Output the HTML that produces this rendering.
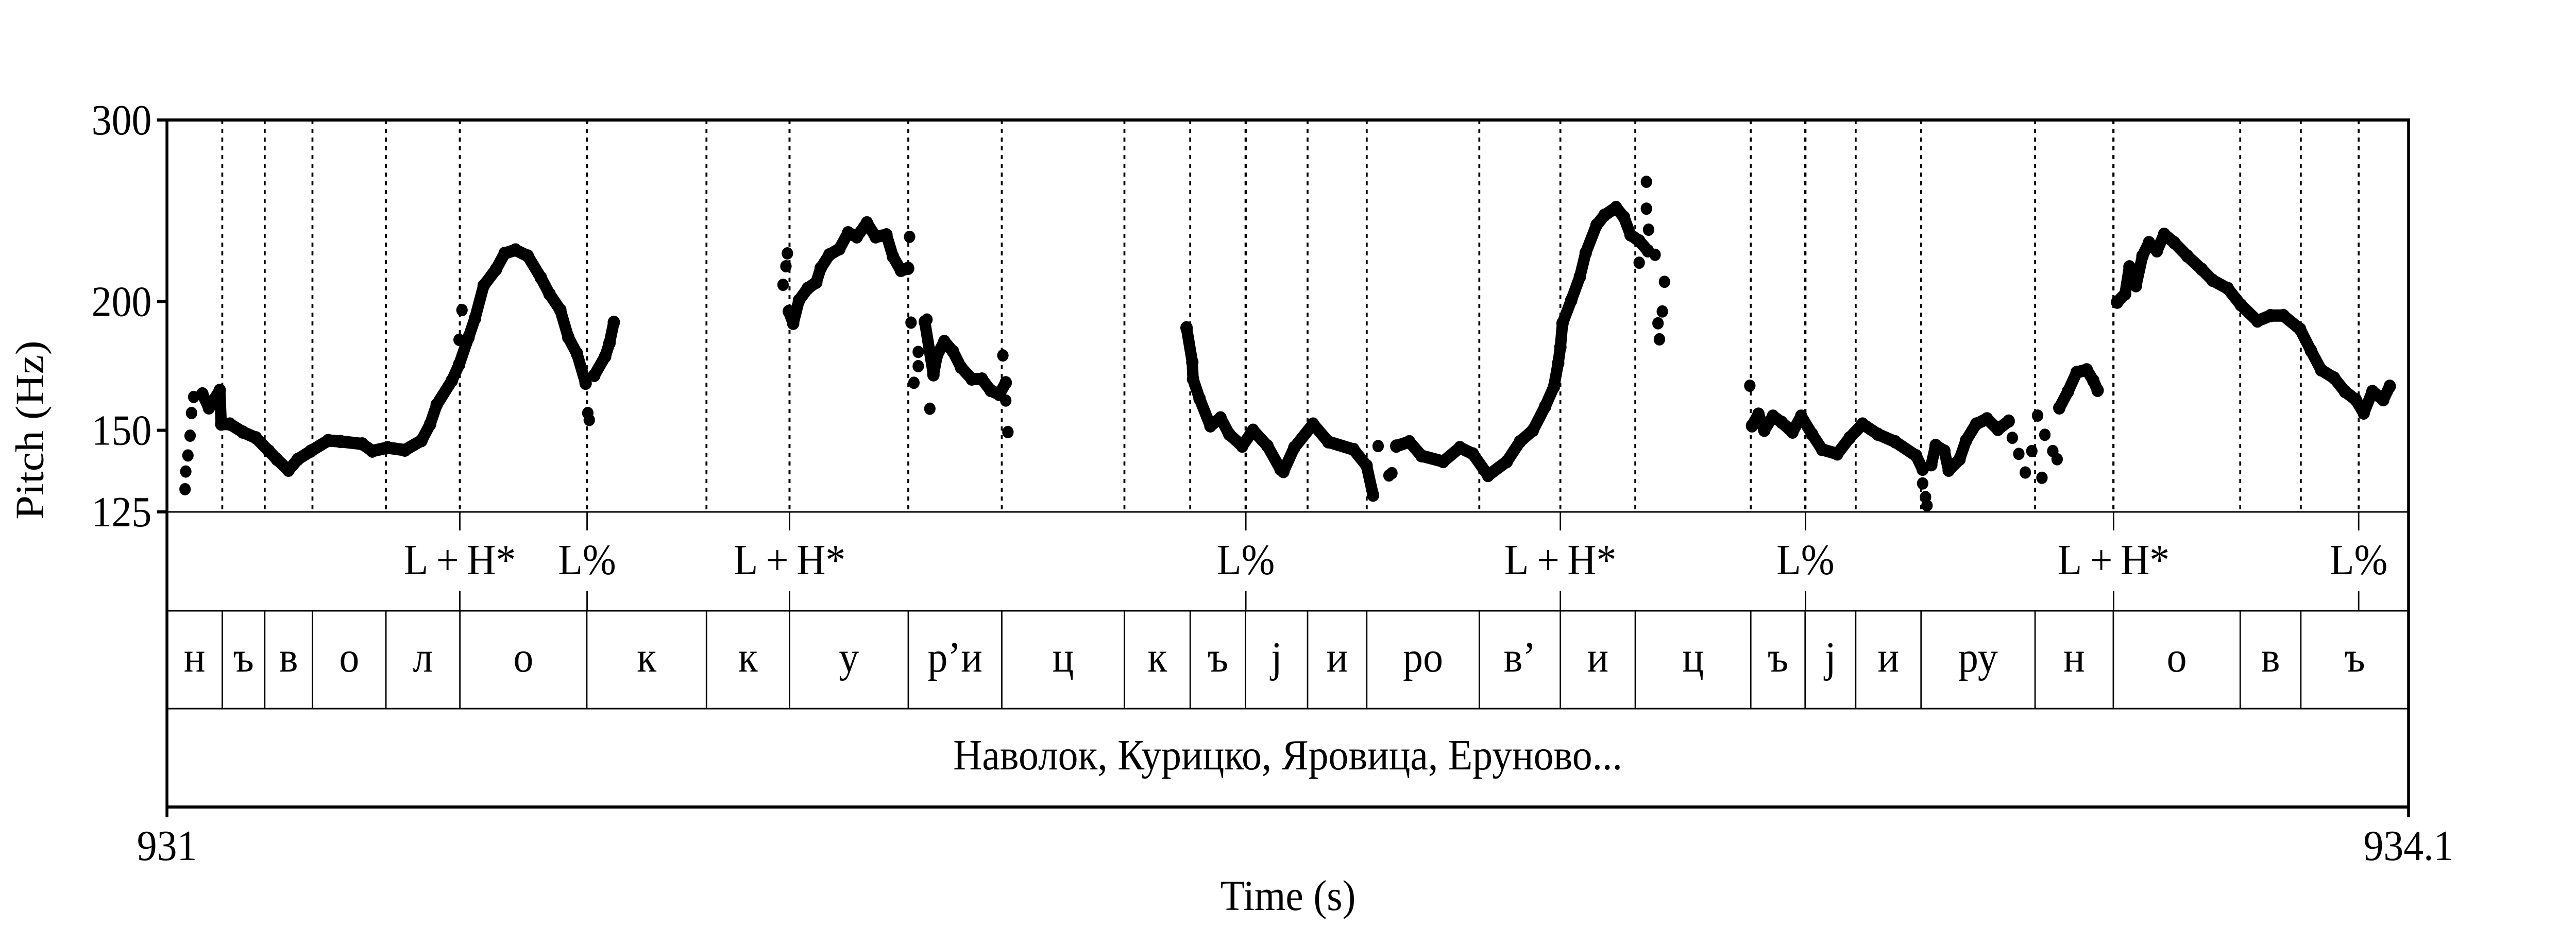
<!DOCTYPE html>
<html><head><meta charset="utf-8"><style>
html,body{margin:0;padding:0;background:#fff;width:100%;height:100%;overflow:hidden;}
svg{display:block;position:absolute;left:0;top:0;width:100vw;height:100vh;font-family:"Liberation Serif","DejaVu Serif",serif;}
</style></head><body>
<svg id="chart" viewBox="0 0 5400 1800" preserveAspectRatio="none" xmlns="http://www.w3.org/2000/svg">
<rect x="0" y="0" width="5400" height="1800" fill="#fff"/>
<g id="grid"></g>
<g id="marks"></g>
<g id="frame"></g>
<g id="labels"></g>
<text x="62" y="835" font-size="84" text-anchor="middle" dominant-baseline="central" transform="rotate(-90 62 835)">Pitch (Hz)</text>
<text x="2700" y="1767" font-size="84" text-anchor="middle">Time (s)</text>
</svg>
<script>
const yTicks = [300, 200, 150, 125];
const xTickLabels = ["931", "934.1"];
const xTicks = [931, 934.1];
const phoneBounds = [931,931.0765,931.1352,931.2012,931.3028,931.4051,931.5806,931.7461,931.8609,932.0252,932.1545,932.3241,932.4151,932.4916,932.5774,932.6592,932.8149,932.9270,933.0306,933.1903,933.2655,933.3354,933.4258,933.5835,933.6917,933.8672,933.9510,934.1];
const phoneLabels = ["н","ъ","в","о","л","о","к","к","у","р’и","ц","к","ъ","j","и","ро","в’","и","ц","ъ","j","и","ру","н","о","в","ъ"];
const toneTimes = [931.405,931.581,931.861,932.492,932.927,933.266,933.692,934.031];
const toneLabels = ["L\u2009+\u2009H*","L%","L\u2009+\u2009H*","L%","L\u2009+\u2009H*","L%","L\u2009+\u2009H*","L%"];
const phraseLabel = "Наволок, Курицко, Яровица, Еруново...";

const seg1T = [931.049,931.058,931.073,931.075,931.087,931.105,931.123,931.141,931.152,931.168,931.181,931.199,931.223,931.240,931.270,931.284,931.305,931.329,931.352,931.364,931.373,931.394,931.404,931.417,931.426,931.438,931.455,931.467,931.482,931.499,931.517,931.529,931.544,931.555,931.567,931.579];
const seg1F = [162.7,157.7,164.0,152.1,152.1,149.4,147.5,143.2,140.6,137.2,140.6,143.2,146.6,146.3,145.5,143.2,144.3,143.5,146.6,152.1,158.8,167.6,173.7,184.6,192.6,207.2,214.9,222.7,224.4,221.4,211.0,203.4,196.2,184.6,178.0,166.6];
const seg1cT = [931.591,931.606,931.612,931.618];
const seg1cF = [169.6,176.9,182.3,190.9];
const seg2T = [931.860,931.866,931.874,931.886,931.898,931.904,931.916,931.930,931.942,931.954,931.968,931.980,931.995,932.004,932.015,932.025];
const seg2F = [195.6,190.5,200.5,205.9,208.8,215.4,222.0,225.0,233.2,231.1,238.4,231.1,232.1,221.1,214.4,215.4];
const seg3T = [932.048,932.060,932.065,932.075,932.087,932.098,932.113,932.127,932.139,932.151,932.160];
const seg3F = [191.1,169.8,177.3,182.9,178.9,172.7,168.2,168.2,164.0,162.5,166.8];
const seg4aT = [932.410,932.418,932.419,932.428,932.443,932.457,932.469,932.487,932.502,932.522,932.540,932.544,932.559,932.585,932.606,932.641,932.659,932.668];
const seg4aF = [188.6,174.7,168.2,161.0,151.5,154.2,148.7,144.8,150.0,144.8,137.5,136.8,144.3,152.1,146.2,143.7,138.6,129.8];
const seg4bT = [932.700,932.718,932.735,932.765,932.788,932.806,932.827,932.853,932.871,932.889,932.906,932.918,932.924,932.927,932.930,932.942,932.954,932.962,932.977,932.988,933.004,933.015,933.024,933.036,933.048];
const seg4bF = [144.8,146.2,141.7,139.9,144.3,142.3,135.6,139.9,146.2,150.0,158.2,165.3,174.3,180.6,190.5,200.5,211.4,222.9,237.2,242.5,246.7,241.4,232.1,229.0,224.0];
const seg5aT = [933.192,933.201,933.209,933.221,933.233,933.248,933.260,933.275,933.289,933.310,933.327,933.345,933.366,933.390,933.419,933.428];
const seg5aF = [151.5,155.5,150.0,154.8,152.7,149.4,154.8,148.7,143.7,142.3,147.5,152.1,148.7,146.2,141.7,137.5];
const seg5bT = [933.440,933.446,933.458,933.464,933.479,933.488,933.502,933.517,933.532,933.547];
const seg5bF = [138.9,145.0,143.2,137.2,140.6,146.6,152.1,153.9,150.3,153.1];
const seg5cT = [933.617,933.629,933.641,933.655,933.664,933.670];
const seg5cF = [157.7,163.6,170.7,171.7,167.6,164.0];
const seg6T = [933.697,933.708,933.714,933.723,933.732,933.741,933.752,933.762,933.776,933.794,933.814,933.829,933.850,933.868,933.891,933.909,933.927,933.950,933.965,933.979,933.997,934.012,934.027,934.038,934.050,934.065,934.074];
const seg6F = [199.7,203.4,216.1,207.2,221.4,228.1,224.0,232.4,228.1,221.4,214.9,209.7,205.9,198.5,191.5,193.8,193.8,188.0,179.2,171.7,168.6,163.6,160.6,155.9,163.6,160.6,165.5];
const dotsT = [931.025,931.026,931.029,931.032,931.034,931.037,931.404,931.408,931.582,931.584,931.858,931.856,931.852,932.027,932.029,932.039,932.039,932.033,932.055,932.051,932.156,932.160,932.163,932.675,932.690,932.694,933.036,933.046,933.046,933.049,933.058,933.071,933.068,933.062,933.064,933.189,933.428,933.432,933.434,933.552,933.561,933.570,933.579,933.587,933.593,933.597,933.608,933.614];
const dotsF = [131.5,136.8,141.8,148.2,155.9,161.6,183.6,196.2,155.9,153.5,222.7,216.4,207.6,231.1,190.8,178.7,173.1,166.8,157.4,192.1,177.3,160.3,149.4,144.8,135.6,136.3,218.1,261.3,246.1,234.8,222.0,209.0,195.6,190.5,183.8,165.7,133.2,129.2,126.8,147.5,142.3,136.5,143.2,155.0,134.9,148.5,143.2,140.6];

const X0=350, X1=5049, T0=931, T1=934.1;
const YT=233, YB=994, FMAX=300, FMIN=125;
const TIER1B=1186, TIER2B=1376, BOT=1567;
function xT(t){return X0+(t-T0)/(T1-T0)*(X1-X0);}
function yF(f){return YT+Math.log(FMAX/f)/Math.log(FMAX/FMIN)*(YB-YT);}
const NS="http://www.w3.org/2000/svg";
function mk(tag,attrs,parent){const e=document.createElementNS(NS,tag);for(const k in attrs)e.setAttribute(k,attrs[k]);parent.appendChild(e);return e;}
const grid=document.getElementById('grid'),marks=document.getElementById('marks'),frame=document.getElementById('frame'),labels=document.getElementById('labels');

const dotted=new Set();
phoneBounds.slice(1,-1).forEach(t=>dotted.add(t));
toneTimes.forEach(t=>dotted.add(t));
[...dotted].forEach(t=>{
  const l=mk('line',{x1:xT(t),x2:xT(t),y1:YT,y2:YB,stroke:'#000','stroke-width':4,'stroke-dasharray':'8 9'},grid);
  
  
});

const segsT=[seg1T,seg1cT,seg2T,seg3T,seg4aT,seg4bT,seg5aT,seg5bT,seg5cT,seg6T];
const segsF=[seg1F,seg1cF,seg2F,seg3F,seg4aF,seg4bF,seg5aF,seg5bF,seg5cF,seg6F];
segsT.forEach((ts,i)=>{
  const fs=segsF[i];
  const pts=ts.map((t,j)=>xT(t).toFixed(1)+','+yF(fs[j]).toFixed(1)).join(' ');
  const p=mk('polyline',{points:pts,fill:'none',stroke:'#000','stroke-width':24,'stroke-linejoin':'round','stroke-linecap':'round'},marks);
  
  
  ts.forEach((t,j)=>{
    const c=mk('circle',{cx:xT(t),cy:yF(fs[j]),r:13,fill:'#000'},marks);
    
    
  });
});
dotsT.forEach((t,j)=>{
  const c=mk('circle',{cx:xT(t),cy:yF(dotsF[j]),r:12,fill:'#000'},marks);
  
  
});

function line(x1,y1,x2,y2,w,name){const l=mk('line',{x1,y1,x2,y2,stroke:'#000','stroke-width':w},frame);return l;}
line(329,YT,X1+3,YT,6,'top-axis-line');
line(X0,YT-3,X0,1587,6,'left-axis-line');
line(X1,YT-3,X1,1587,6,'right-axis-line');
line(X0,BOT,X1,BOT,6,'bottom-axis-line');
line(X0,YB,X1,YB,3,'pitch-tier-divider');
line(X0,TIER1B,X1,TIER1B,3,'tone-tier-divider');
line(X0,TIER2B,X1,TIER2B,3,'phone-tier-divider');

yTicks.forEach(v=>{
  line(329,yF(v),X0,yF(v),6,'y-tick');
  const t=mk('text',{x:318,y:yF(v),'font-size':84,'text-anchor':'end','dominant-baseline':'central'},labels);
  t.textContent=v;
  
  
});
xTicks.forEach((v,i)=>{
  const t=mk('text',{x:xT(v),y:1670,'font-size':84,'text-anchor':'middle'},labels);
  t.textContent=xTickLabels[i];
  
  
});
toneTimes.forEach((tt,i)=>{
  const x=xT(tt);
  line(x,YB,x,YB+36,3,'tone-tick');
  line(x,TIER1B-39,x,TIER1B,3,'tone-tick');
  const t=mk('text',{x:x,y:1115,'font-size':84,'text-anchor':'middle'},labels);
  t.textContent=toneLabels[i];
  
  
});
phoneLabels.forEach((lab,i)=>{
  const a=xT(phoneBounds[i]),b=xT(phoneBounds[i+1]);
  if(i>0) line(a,TIER1B,a,TIER2B,3,'phone-boundary');
  const t=mk('text',{x:(a+b)/2,y:1304,'font-size':84,'text-anchor':'middle'},labels);
  t.textContent=lab;
  
  
});
const ph=mk('text',{x:(X0+X1)/2,y:1494,'font-size':84,'text-anchor':'middle'},labels);
ph.textContent=phraseLabel;


</script>
</body></html>
